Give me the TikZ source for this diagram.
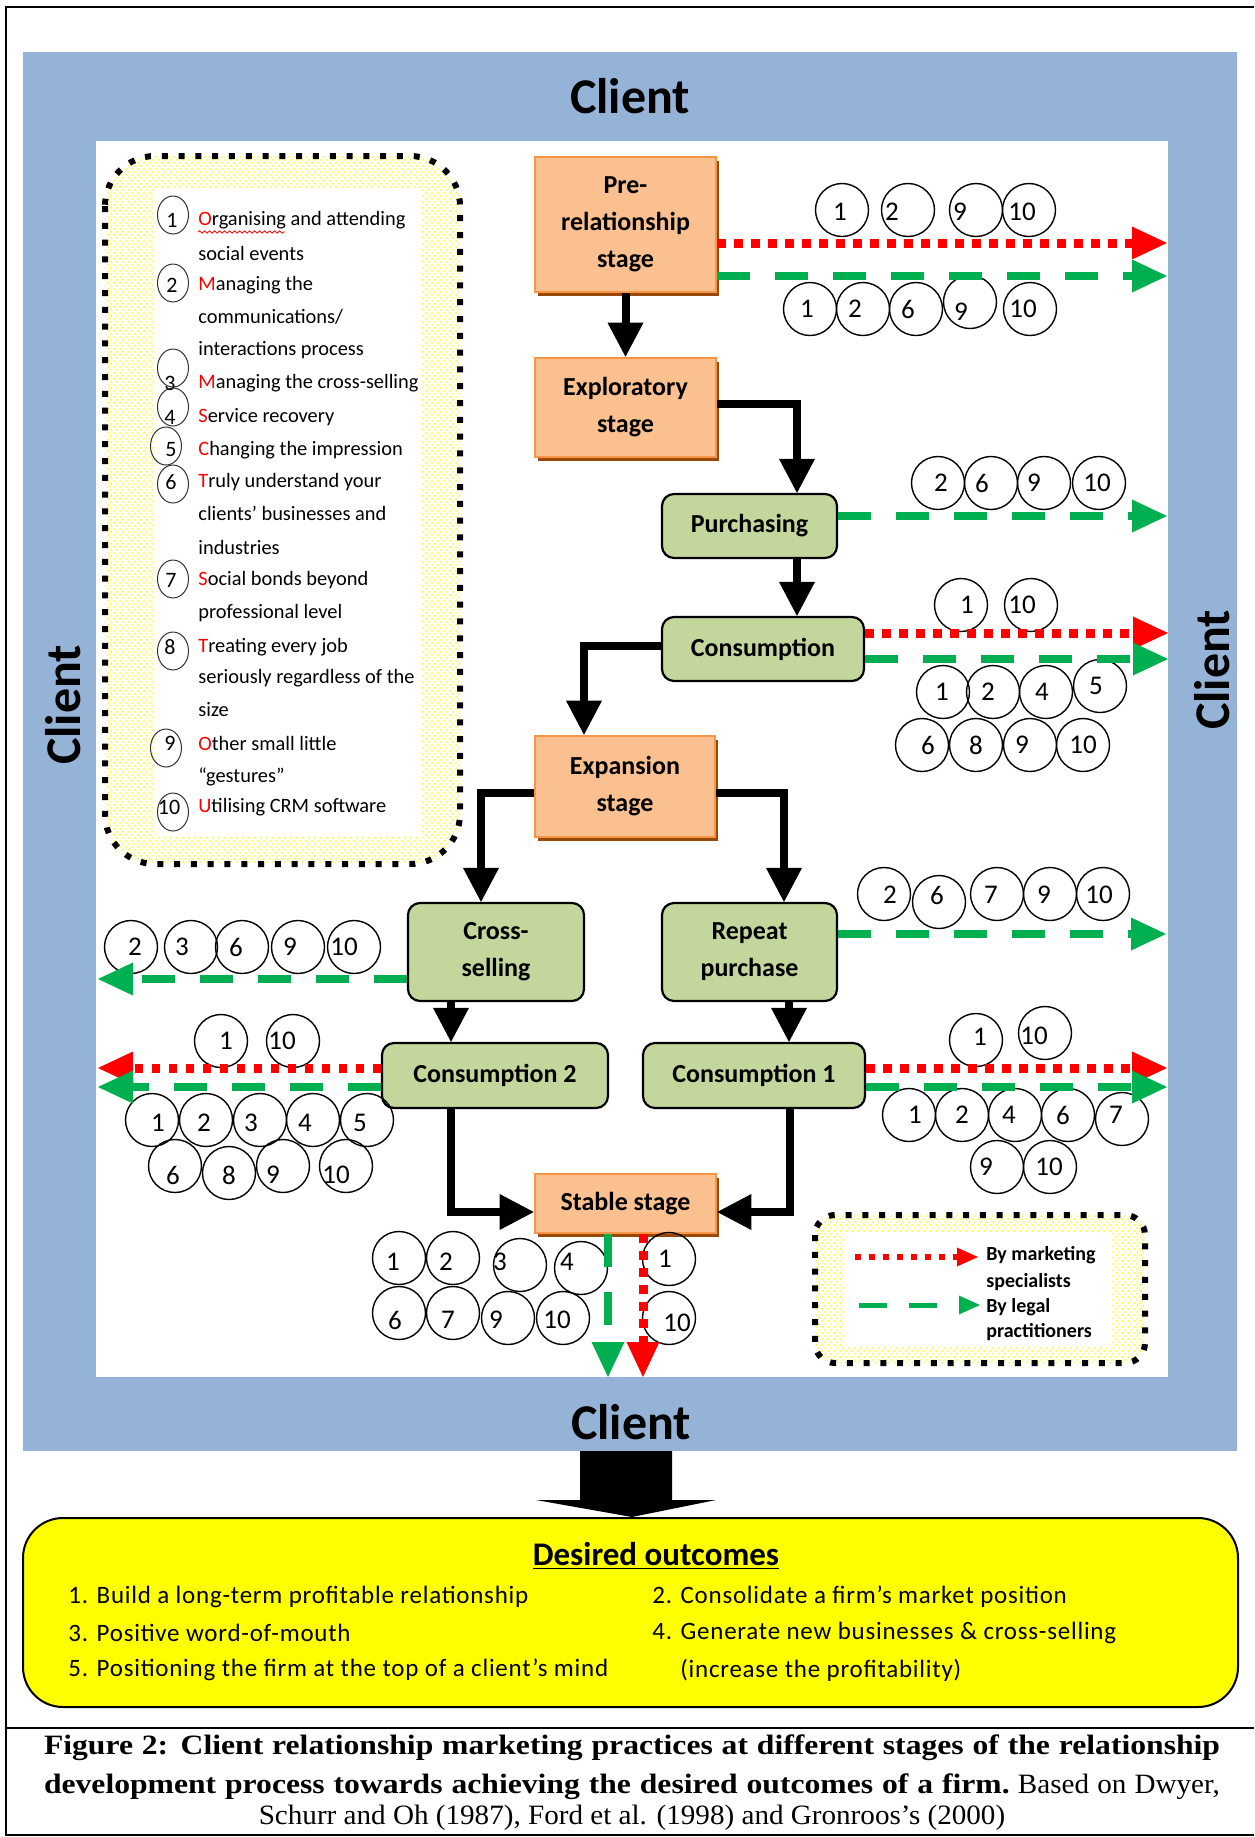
\documentclass[tikz,border=0pt]{standalone}
\usepackage{fontspec}
\setmainfont{Carlito}
\newfontfamily\tnr[FakeStretch=1.04, BoldFeatures={FakeStretch=1.13}]{Liberation Serif}
\usetikzlibrary{arrows.meta,calc,shadows,patterns,shapes.geometric,decorations.pathmorphing}
\definecolor{cblue}{HTML}{95B3D7}
\definecolor{oranfill}{HTML}{FAC090}
\definecolor{oranline}{HTML}{F79646}
\definecolor{shbrown}{HTML}{984807}
\definecolor{gfill}{HTML}{C3D69B}
\definecolor{rred}{HTML}{FF0000}
\definecolor{ggreen}{HTML}{00B050}
\definecolor{yel}{HTML}{FFFF00}
\newcommand\redl[1]{\textcolor{rred}{#1}}
\newcommand\stagefont{\fontsize{13}{18.5}\selectfont\bfseries}
\begin{document}
\begin{tikzpicture}[x=0.5pt,y=-0.5pt,
 orbox/.style={draw=oranline, line width=1.3pt, fill=oranfill, inner sep=0pt, align=center, font=\stagefont,
   drop shadow={shadow xshift=1.5pt, shadow yshift=-2pt, fill=shbrown, opacity=1}},
 grbox/.style={draw=black, line width=1.1pt, fill=gfill, rounded corners=6pt, inner sep=0pt, align=center, font=\stagefont},
 blk/.style={line width=4pt, -{Triangle[length=17pt,width=18pt,line width=0pt]}},
 redarr/.style={rred, line width=4.5pt, dash pattern=on 4.2pt off 4.3pt, -{Triangle[length=17.5pt,width=16.5pt,line width=0pt]}},
 grnarr/.style={ggreen, line width=4pt, dash pattern=on 16.5pt off 12.5pt, -{Triangle[length=17.5pt,width=16.5pt,line width=0pt]}},
 numc/.style={circle, draw, line width=0.7pt, minimum size=26.5pt, inner sep=0pt},
 numt/.style={inner sep=0pt, font=\fontsize{13.5}{14}\selectfont},
 lstc/.style={ellipse, draw=black!80, line width=0.5pt, minimum width=15.5pt, minimum height=19pt, inner sep=0pt},
 lstn/.style={inner sep=0pt, font=\fontsize{11}{12}\selectfont},
 listt/.style={anchor=west, inner sep=0pt, font=\fontsize{10.2}{12}\selectfont},
 legt/.style={anchor=west, inner sep=0pt, font=\fontsize{10}{12}\selectfont\bfseries},
 outt/.style={anchor=west, inner sep=0pt, font=\fontsize{12.5}{15}\selectfont\addfontfeature{LetterSpace=3}},
 clientt/.style={inner sep=0pt, font=\fontsize{25}{30}\selectfont\bfseries},
 capt/.style={inner sep=0pt, font=\tnr\fontsize{14}{16}\selectfont},
 dotbox/.style={line width=3pt, dash pattern=on 3pt off 5.4pt}
]
\useasboundingbox (0,0) rectangle (1254,1837);
\fill[white] (0,0) rectangle (1254,1837);
% page frame
\draw[line width=1.2pt] (1254,7) -- (6,7) -- (6,1835) -- (1254,1835);
\draw[line width=1.2pt] (6,1728) -- (1254,1728);
% blue client frame
\fill[cblue] (23,52) rectangle (1237,1451);
\fill[white] (96,141) rectangle (1168,1377);
\node[clientt] (ctop) at (630,96) {Client};
\node[clientt] (cbot) at (631,1422) {Client};
\node[clientt, rotate=90] (cleft) at (63,705) {Client};
\node[clientt, rotate=90] (cright) at (1212,670) {Client};

% list box
\path[rounded corners=25pt, pattern=crosshatch dots, pattern color=yel] (105,156) rectangle (460,864);
\fill[white] (153,188) rectangle (421,836);
\draw[dotbox, rounded corners=25pt] (105,156) rectangle (460,864);
\foreach \cx/\cy/\lab/\dx/\dy [count=\i] in {173/215/1/-1/5, 173/283/2/-1/2, 173/368/3/-3/15, 173/407/4/-3/10, 166/446/5/5/4, 173/484/6/-2/-2, 173/579/7/-2/1, 173/651/8/-3/-4, 166/748/9/4/-5, 173/812/10/-4/-5}{
  \node[lstc] (le\i) at (\cx,\cy) {};
  \node[lstn] (ln\i) at ($(\cx,\cy)+(\dx,\dy)$) {\lab};
}
\node[listt] (l1) at (198,220) {\redl{O}rganising and attending};
\draw[rred, line width=0.4pt, decorate, decoration={snake, segment length=2.5pt, amplitude=0.6pt}] (198,232) -- (285,232);
\node[listt] (l2) at (198,253) {social events};
\node[listt] (l3) at (198,285) {\redl{M}anaging the};
\node[listt] (l4) at (198,317) {communications/};
\node[listt] (l5) at (198,350) {interactions process};
\node[listt] (l6) at (198,383) {\redl{M}anaging the cross-selling};
\node[listt] (l7) at (198,417) {\redl{S}ervice recovery};
\node[listt] (l8) at (198,450) {\redl{C}hanging the impression};
\node[listt] (l9) at (198,482) {\redl{T}ruly understand your};
\node[listt] (l10) at (198,513) {clients’ businesses and};
\node[listt] (l11) at (198,547) {industries};
\node[listt] (l12) at (198,580) {\redl{S}ocial bonds beyond};
\node[listt] (l13) at (198,613) {professional level};
\node[listt] (l14) at (198,647) {\redl{T}reating every job};
\node[listt] (l15) at (198,678) {seriously regardless of the};
\node[listt] (l16) at (198,710) {size};
\node[listt] (l17) at (198,743) {\redl{O}ther small little};
\node[listt] (l18) at (198,777) {“gestures”};
\node[listt] (l19) at (198,807) {\redl{U}tilising CRM software};

% legend box
\path[rounded corners=10pt, pattern=crosshatch dots, pattern color=yel] (815,1215) rectangle (1145,1363);
\fill[white] (843,1232) rectangle (1112,1347);
\draw[dotbox, rounded corners=10pt] (815,1215) rectangle (1145,1363);
\node[legt] (lg1) at (986,1255) {By marketing};
\node[legt] (lg2) at (986,1282) {specialists};
\node[legt] (lg3) at (986,1307) {By legal};
\node[legt] (lg4) at (986,1332) {practitioners};
\coordinate (lra) at (855,1257); \coordinate (lrb) at (978,1257);
\coordinate (lga) at (859,1305); \coordinate (lgb) at (980,1305);
\draw[rred, line width=2.8pt, dash pattern=on 2.8pt off 4.2pt, -{Triangle[length=10.5pt,width=9.5pt,line width=0pt]}] (lra) -- (lrb);
\draw[ggreen, line width=2.5pt, dash pattern=on 14pt off 11pt, -{Triangle[length=10.5pt,width=9.5pt,line width=0pt]}] (lga) -- (lgb);

% stage boxes
\node[orbox, minimum width=90.5pt, minimum height=67.5pt] (pre) at (625.5,224.5) {Pre-\\relationship\\stage};
\node[orbox, minimum width=90.5pt, minimum height=49.5pt] (expl) at (625.5,407.5) {Exploratory\\stage};
\node[grbox, minimum width=87.5pt, minimum height=32pt] (purch) at (749.5,526) {Purchasing};
\node[grbox, minimum width=101pt, minimum height=32pt] (cons) at (763,649) {Consumption};
\node[orbox, minimum width=90pt, minimum height=50.5pt] (exp) at (625,786.5) {Expansion\\stage};
\node[grbox, minimum width=88pt, minimum height=49pt] (cross) at (496,952) {Cross-\\selling};
\node[grbox, minimum width=87.5pt, minimum height=49pt] (rep) at (749.5,952) {Repeat\\purchase};
\node[grbox, minimum width=113pt, minimum height=32.5pt] (cons2) at (495,1075.5) {Consumption 2};
\node[grbox, minimum width=111pt, minimum height=32.5pt] (cons1) at (754,1075.5) {Consumption 1};
\node[orbox, minimum width=90.5pt, minimum height=29.5pt] (stab) at (625.5,1203.5) {Stable stage};

% black connectors
\draw[blk] (pre.south) -- (expl.north);
\draw[blk] ($(expl.east)+(0,-3.5)$) -| ($(purch.north)+(47.5,0)$);
\draw[blk] ($(purch.south)+(47.5,0)$) -- ($(cons.north)+(34,0)$);
\draw[blk] ($(cons.west)+(0,-3)$) -| ($(exp.north)+(-41,0)$);
\draw[blk] ($(exp.west)+(0,6.5)$) -| ($(cross.north)+(-15,0)$);
\draw[blk] ($(exp.east)+(0,6.5)$) -| ($(rep.north)+(34.5,0)$);
\draw[blk] ($(cross.south)+(-45,0)$) -- ($(cons2.north)+(-44,0)$);
\draw[blk] ($(rep.south)+(39.5,0)$) -- ($(cons1.north)+(35,0)$);
\draw[blk] ($(cons2.south)+(-44,0)$) |- ($(stab.west)+(0,8.5)$);
\draw[blk] ($(cons1.south)+(36,0)$) |- ($(stab.east)+(0,8.5)$);

% numbered circles
\foreach \cx/\cy/\lab/\dx/\dy [count=\i] in {
842/210/1/-2/2, 908/210/2/-16/2, 976/210/9/-16/2, 1029/210/10/-7/2,
810/309/1/-3/0, 863/309/2/-8/0, 916/309/6/-8/0, 970/302/9/-9/10, 1030/309/10/-7/0,
938/483/2/3/0, 991/483/6/-9/0, 1044/483/9/-10/0, 1099/483/10/-2/0,
961/605/1/6/0, 1031/605/10/-9/0,
943/692/1/-1/0, 993/692/2/-5/0, 1046/692/4/-4/0, 1100/686/5/-4/0,
922/745/6/6/0, 976/745/8/0/0, 1030/745/9/-8/0, 1083/745/10/0/0,
884/894/2/6/1, 939/902/6/-2/-7, 997/894/7/-6/1, 1050/894/9/-6/1, 1103/894/10/-4/1,
976/1040/1/4/-3, 1045/1033/10/-11/3,
909/1115/1/6/0, 962/1115/2/0/0, 1015/1115/4/-6/0, 1068/1115/6/-5/0, 1122/1119/7/-6/-4,
997/1167/9/-11/0, 1050/1167/10/-1/0,
131/947/2/4/0, 191/947/3/-9/0, 242/947/6/-6/0, 298/947/9/-8/0, 354/947/10/-10/0,
221/1041/1/5/0, 293/1041/10/-11/0,
152/1120/1/6/3, 206/1120/2/-2/3, 260/1120/3/-9/3, 313/1120/4/-8/3, 367/1120/5/-7/3,
175/1166/6/-2/9, 229/1173/8/0/2, 283/1166/9/-10/9, 346/1166/10/-10/9,
399/1258/1/-6/4, 453/1258/2/-7/4, 520/1265/3/-20/-3, 581/1268/4/-14/-6,
399/1313/6/-4/7, 453/1313/7/-5/7, 508/1318/9/-12/2, 563/1318/10/-6/2,
669/1259/1/-4/0, 669/1318/10/8/5}{
  \node[numc] (c\i) at (\cx,\cy) {};
  \node[numt] (n\i) at ($(\cx,\cy)+(\dx,\dy)$) {\lab};
}

% coloured connectors
\coordinate (preR) at (1167,243); \coordinate (preG) at (1167,276);
\draw[redarr] ($(pre.east)+(0,18.5)$) -- (preR);
\draw[grnarr] ($(pre.east)+(0,51.5)$) -- (preG);
\coordinate (puG) at (1167,516);
\draw[grnarr] ($(purch.east)+(0,-10)$) -- (puG);
\coordinate (coR) at (1168,633); \coordinate (coG) at (1168,659);
\draw[redarr] ($(cons.east)+(0,-16)$) -- (coR);
\draw[grnarr] ($(cons.east)+(0,10)$) -- (coG);
\coordinate (reG) at (1166,934);
\draw[grnarr] ($(rep.east)+(0,-18)$) -- (reG);
\coordinate (c1R) at (1167,1068); \coordinate (c1G) at (1167,1087);
\draw[redarr] ($(cons1.east)+(0,-7.5)$) -- (c1R);
\draw[grnarr] ($(cons1.east)+(0,11.5)$) -- (c1G);
\coordinate (crG) at (98,979);
\draw[grnarr] ($(cross.west)+(0,27)$) -- (crG);
\coordinate (c2R) at (98,1068); \coordinate (c2G) at (98,1087);
\draw[redarr] ($(cons2.west)+(0,-7.5)$) -- (c2R);
\draw[grnarr] ($(cons2.west)+(0,11.5)$) -- (c2G);
\coordinate (stG) at (608,1377); \coordinate (stR) at (643,1377);
\draw[grnarr] ($(stab.south)+(-17.5,0)$) -- (stG);
\draw[redarr] ($(stab.south)+(17.5,0)$) -- (stR);

% outcomes
\draw[line width=1pt, fill=yel, rounded corners=20pt] (23,1518) rectangle (1238,1707);
\fill (580,1451) -- (672,1451) -- (672,1500) -- (716,1500) -- (632,1517) -- (536,1500) -- (580,1500) -- cycle;
\node[inner sep=0pt, font=\fontsize{16.5}{18}\selectfont\bfseries] (dout) at (656,1556) {\underline{Desired outcomes}};
\node[outt] (o1) at (68,1597) {1. Build a long-term profitable relationship};
\node[outt] (o2) at (652,1597) {2. Consolidate a firm’s market position};
\node[outt] (o3) at (68,1633) {3. Positive word-of-mouth};
\node[outt] (o4) at (652,1633) {4. Generate new businesses \& cross-selling};
\node[outt] (o5) at (68,1670) {5. Positioning the firm at the top of a client’s mind};
\node[outt] (o6) at (680,1670) {(increase the profitability)};

% caption
\node[capt] (cap1) at (632,1748) {\bfseries\makebox[588pt][s]{Figure 2: Client relationship marketing practices at different stages of the relationship}};
\node[capt] (cap2) at (632,1787) {\makebox[588pt][s]{\bfseries development process towards achieving the desired outcomes of a firm.\mdseries\ Based on Dwyer,}};
\node[capt] (cap3) at (632,1818) {Schurr and Oh (1987), Ford et al. (1998) and Gronroos’s (2000)};
\end{tikzpicture}
\end{document}
